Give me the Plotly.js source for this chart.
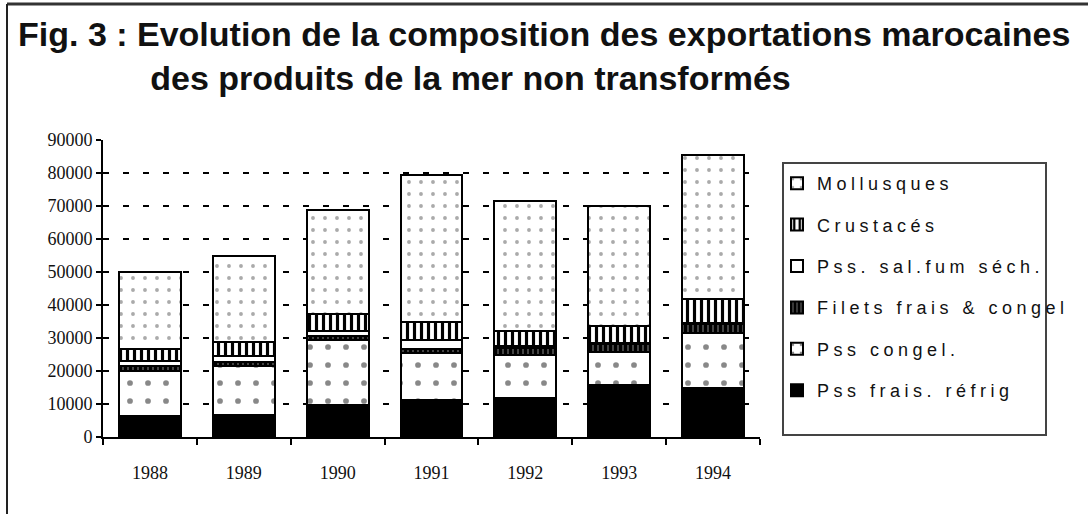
<!DOCTYPE html>
<html>
<head>
<meta charset="utf-8">
<script src="https://cdn.plot.ly/plotly-3.0.1.min.js"></script>
<style>
  html, body { margin: 0; padding: 0; background: #fff; }
  #chart { width: 1088px; height: 514px; }
  .legendtext { letter-spacing: 4.5px; }
</style>
</head>
<body>
<div id="chart"></div>
<script>
// Categories (years)
const years = ["1988", "1989", "1990", "1991", "1992", "1993", "1994"];

// Series values (tonnes), bottom to top of each stack
const pssFraisRefrig   = [6500, 6800, 9800, 11300, 11900, 15800, 15000];
const pssCongel        = [13400, 14600, 19700, 14200, 13100, 10000, 16600];
const filetsFraisCongel= [1500, 1200, 1200, 1200, 2000, 2400, 2600];
const pssSalFumSech    = [1500, 1800, 1300, 2800, 500, 400, 400];
const crustaces        = [3800, 4400, 5300, 5200, 4600, 5100, 7200];
const mollusques       = [23300, 26100, 31400, 44800, 39400, 36300, 43700];

// Labels
const seriesNames = ["Pss frais. réfrig", "Pss congel.", "Filets frais & congel",
                     "Pss. sal.fum séch.", "Crustacés", "Mollusques"];
const titleLine1 = "Fig. 3 : Evolution de la composition des exportations marocaines";
const titleLine2 = "des produits de la mer non transformés";
const yTickVals = [0, 10000, 20000, 30000, 40000, 50000, 60000, 70000, 80000, 90000];

const outline = { color: "#000", width: 2 };
const seriesData = [pssFraisRefrig, pssCongel, filetsFraisCongel, pssSalFumSech, crustaces, mollusques];
const markers = [
  { color: "#000", line: outline },
  { color: "#fff", line: outline, pattern: { shape: ".", fgcolor: "#888", bgcolor: "#fff", size: 18, solidity: 0.08 } },
  { color: "#111", line: outline, pattern: { shape: "|", fgcolor: "#000", bgcolor: "#444", size: 5, solidity: 0.6 } },
  { color: "#fff", line: outline },
  { color: "#fff", line: outline, pattern: { shape: "|", fgcolor: "#000", bgcolor: "#fff", size: 7, solidity: 0.45 } },
  { color: "#fff", line: outline, pattern: { shape: ".", fgcolor: "#aaa", bgcolor: "#fff", size: 12, solidity: 0.08 } }
];

const traces = seriesData.map((vals, i) => ({
  type: "bar",
  x: years,
  y: vals,
  name: seriesNames[i],
  legendgroup: "g" + i,
  legendrank: 1000 + (seriesData.length - i),
  marker: markers[i],
  hoverinfo: "x+y+name"
}));

const nbsp = "\u00a0".repeat(14);

const layout = {
  width: 1088,
  height: 514,
  margin: { l: 103, r: 328, t: 140, b: 77 },
  paper_bgcolor: "#fff",
  plot_bgcolor: "#fff",
  barmode: "stack",
  bargap: 0.34,
  showlegend: true,
  title: {
    text: titleLine1 + "<br>" + nbsp + titleLine2,
    x: 18 / 1088,
    xanchor: "left",
    xref: "container",
    y: 1 - 46 / 514,
    yanchor: "top",
    yref: "container",
    font: { family: "Liberation Sans, Arial, sans-serif", size: 34, color: "#111", weight: "bold" }
  },
  xaxis: {
    type: "category",
    showline: true,
    linecolor: "#000",
    linewidth: 2,
    ticks: "outside",
    tickson: "boundaries",
    ticklen: 6,
    tickcolor: "#000",
    tickwidth: 2,
    ticklabelstandoff: 18,
    showgrid: false,
    tickfont: { family: "Liberation Serif, Times New Roman, serif", size: 18, color: "#111" }
  },
  yaxis: {
    range: [0, 90000],
    tickvals: yTickVals,
    tickformat: "d",
    showline: true,
    linecolor: "#000",
    linewidth: 2,
    ticks: "outside",
    ticklen: 5,
    tickcolor: "#000",
    tickwidth: 2,
    zeroline: false,
    showgrid: true,
    gridcolor: "#000",
    gridwidth: 2,
    griddash: "6px,14px",
    tickfont: { family: "Liberation Serif, Times New Roman, serif", size: 18, color: "#111" }
  },
  legend: {
    xref: "container",
    yref: "container",
    x: 777 / 1088,
    xanchor: "left",
    y: 1 - 165 / 514,
    yanchor: "top",
    bgcolor: "rgba(0,0,0,0)",
    borderwidth: 0,
    traceorder: "grouped",
    tracegroupgap: 15,
    font: { family: "Liberation Sans, Arial, sans-serif", size: 18, color: "#111" }
  },
  shapes: [
    // legend box
    { type: "rect", xref: "paper", yref: "paper",
      x0: (783 - 103) / 657, x1: (1046 - 103) / 657,
      y0: (437 - 435) / 297, y1: (437 - 163) / 297,
      line: { color: "#444", width: 2 }, layer: "below" },
    // figure frame: top and left
    { type: "line", xref: "paper", yref: "paper",
      x0: (7 - 103) / 657, x1: (1088 - 103) / 657,
      y0: (437 - 4) / 297, y1: (437 - 4) / 297,
      line: { color: "#333", width: 3 } },
    { type: "line", xref: "paper", yref: "paper",
      x0: (7 - 103) / 657, x1: (7 - 103) / 657,
      y0: (437 - 4) / 297, y1: (437 - 514) / 297,
      line: { color: "#222", width: 2 } }
  ]
};

Plotly.newPlot("chart", traces, layout, { displayModeBar: false, staticPlot: true });
</script>
</body>
</html>
